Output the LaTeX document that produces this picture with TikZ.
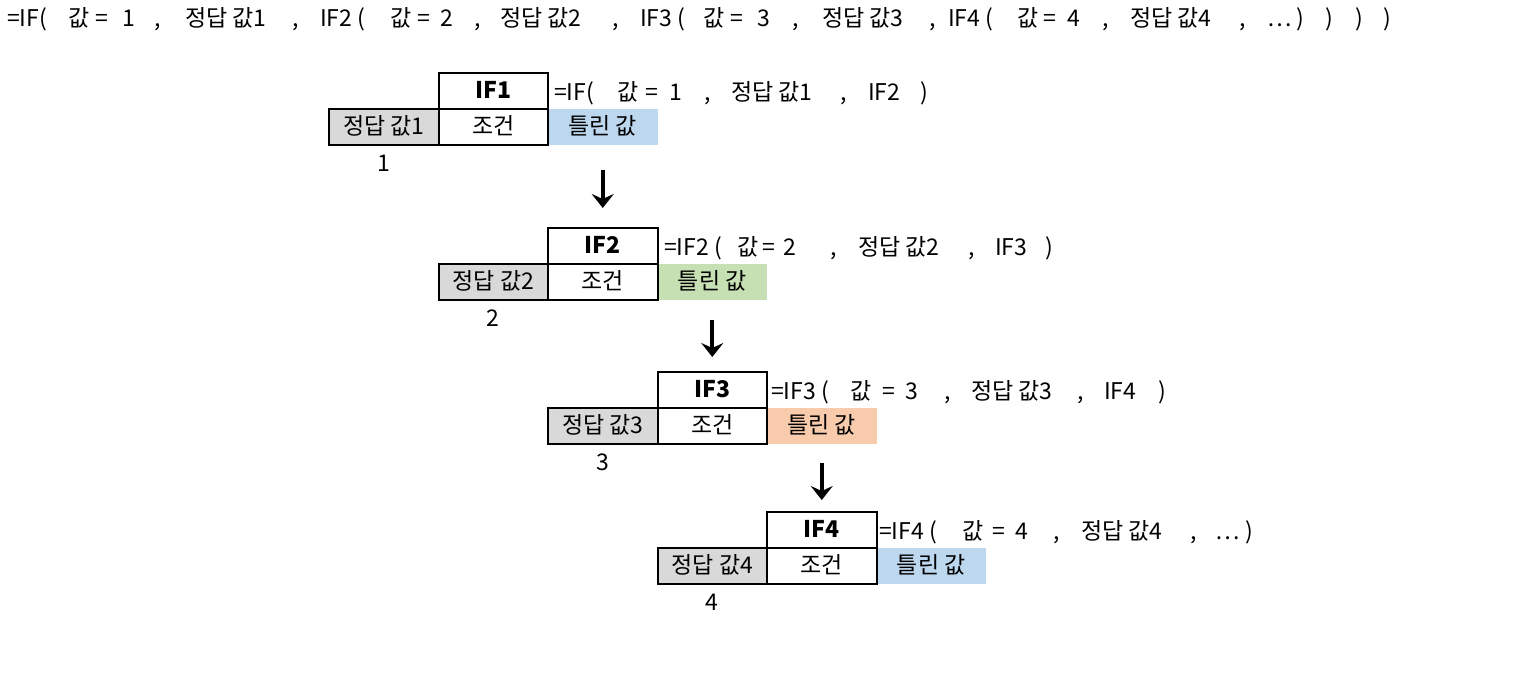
\documentclass[tikz,border=0pt]{standalone}
\usepackage{fontspec}
\setmainfont{Noto Sans CJK KR}
\usetikzlibrary{arrows.meta}
\definecolor{cgray}{HTML}{D9D9D9}
\definecolor{cblue}{HTML}{BDD7EE}
\definecolor{cgreen}{HTML}{C6E0B4}
\definecolor{corange}{HTML}{F8CBAD}
\tikzset{
  txt/.style={font=\fontsize{23}{26}\selectfont},
  tok/.style={txt, anchor=base west, inner sep=0pt, outer sep=0pt},
  cellbase/.style={txt, minimum width=109.5pt, minimum height=36pt, inner sep=0pt, outer sep=0pt,
    text height=17pt, text depth=3pt, anchor=north west},
  cellbox/.style={cellbase, draw=black, line width=2pt},
  wrongcell/.style={cellbase, draw=none},
  numlbl/.style={txt, inner sep=0pt},
  flowarrow/.style={line width=3.6pt, -{Stealth[length=14pt, width=22pt, inset=5pt]}}
}
\begin{document}
\begin{tikzpicture}[x=1pt, y=-1pt]
\useasboundingbox[fill=white] (0,0) rectangle (1533,680);

% top formula line
\foreach \x/\t [count=\i] in {7/{=IF(},68/값,95/=,122/1,154/{,},185/정답 값1,292/{,},320/{IF2 (},
  390/값,417/=,440/2,474/{,},500/정답 값2,612/{,},640/{IF3 (},
  703/값,730/=,757/3,792/{,},822/정답 값3,929/{,},948/{IF4 (},
  1017/값,1043/=,1067/4,1102/{,},1130/정답 값4,1239/{,},1267/…,1296/),1325/),1355/),1383/)}
  \node[tok] (top\i) at (\x,27) {\t};

% blocks: #, left column x, top y, colour
\foreach \k/\L/\T/\C in {1/329/73/cblue, 2/438.5/228/cgreen, 3/548/372/corange, 4/657.5/512/cblue}{
  \node[wrongcell, fill=\C] (w\k) at (\L+219,\T+36) {틀린 값};
  \node[cellbox, fill=cgray] (g\k) at (\L,\T+36) {정답 값\k};
  \node[cellbox, fill=white] (c\k) at (\L+109.5,\T+36) {조건};
  \node[cellbox, fill=white, font=\fontsize{23}{26}\selectfont\bfseries] (if\k) at (\L+109.5,\T) {IF\k};
  \node[numlbl] (n\k) at ([yshift=-18pt]g\k.south) {\k};
}

% block formulas
\foreach \x/\t [count=\i] in {554/{=IF(},617/값,645/=,669/1,704/{,},731/정답 값1,840/{,},868/IF2,920/)}
  \node[tok] (fa\i) at (\x,100) {\t};
\foreach \x/\t [count=\i] in {664/{=IF2 (},737/값,762/=,783/2,830/{,},858/정답 값2,968/{,},995/IF3,1045/)}
  \node[tok] (fb\i) at (\x,255) {\t};
\foreach \x/\t [count=\i] in {771/{=IF3 (},850/값,882/=,905/3,944/{,},971/정답 값3,1077/{,},1104/IF4,1158/)}
  \node[tok] (fc\i) at (\x,399) {\t};
\foreach \x/\t [count=\i] in {879/{=IF4 (},962/값,992/=,1015/4,1053/{,},1081/정답 값4,1190/{,},1215/…,1245/)}
  \node[tok] (fd\i) at (\x,539) {\t};

% arrows
\draw[flowarrow, shorten <=25pt, shorten >=20pt] (w1.south) -- (if2.north);
\draw[flowarrow, shorten <=20pt, shorten >=15pt] (w2.south) -- (if3.north);
\draw[flowarrow, shorten <=19pt, shorten >=12pt] (w3.south) -- (if4.north);
\end{tikzpicture}
\end{document}
